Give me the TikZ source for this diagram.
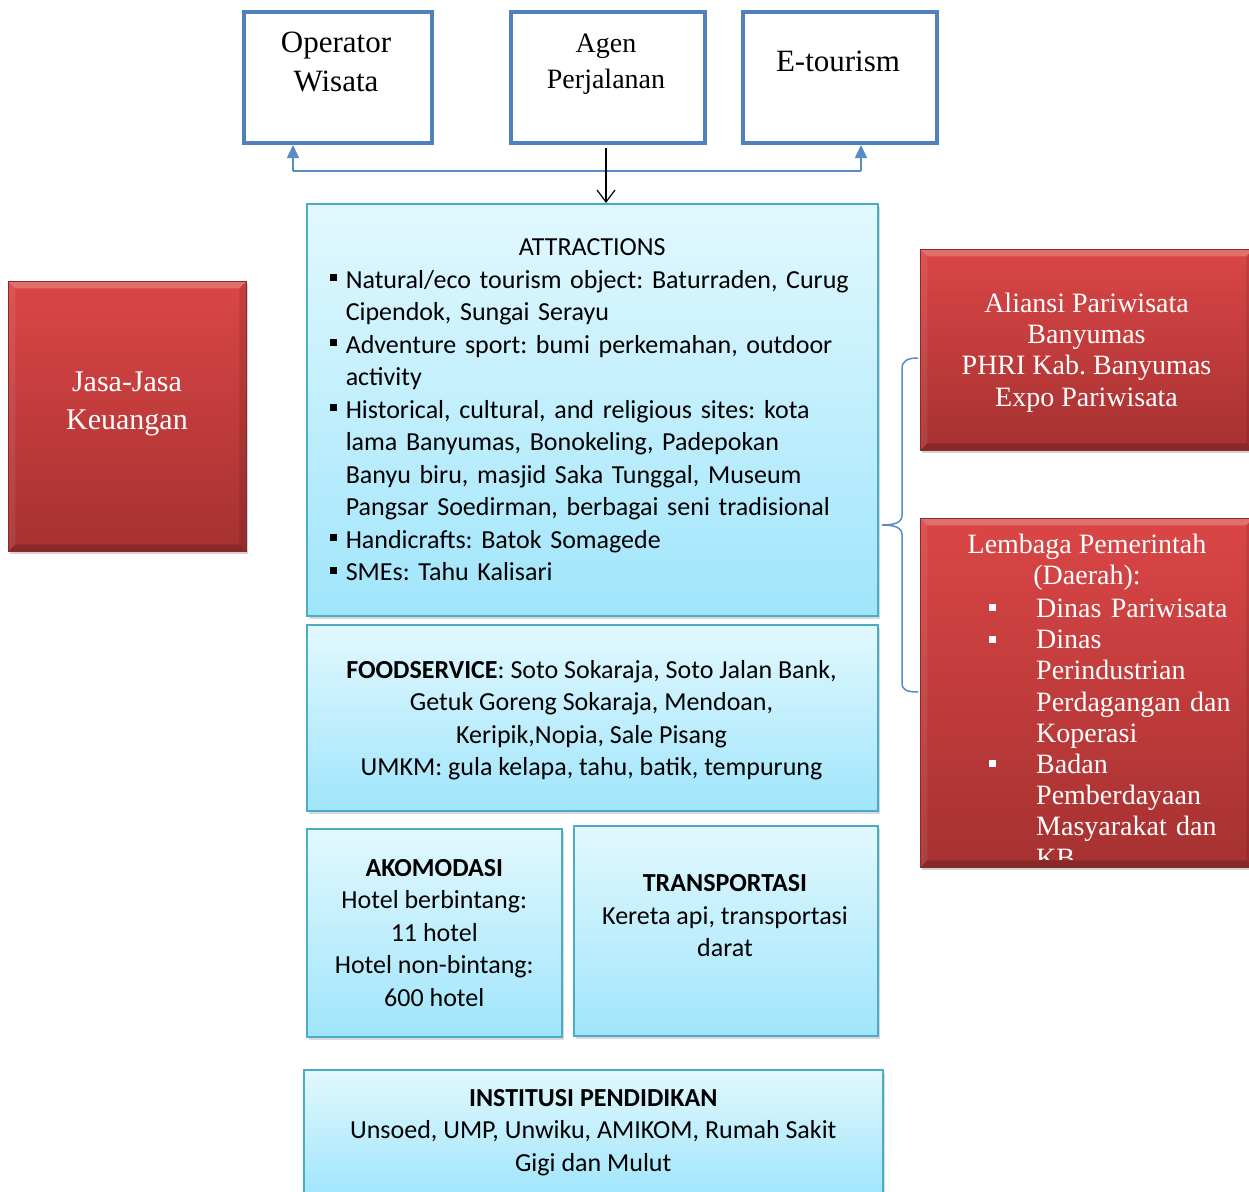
\documentclass[tikz,border=0pt]{standalone}
\usepackage{fontspec}
\setmainfont{Liberation Serif}
\newfontfamily\calibrifont{Carlito}
\usetikzlibrary{arrows.meta,shadows}
\definecolor{opblue}{HTML}{4F81BD}
\definecolor{conblue}{HTML}{5B8BC6}
\definecolor{aqbd}{HTML}{4BACC6}
\definecolor{aqtop}{HTML}{E2F8FE}
\definecolor{aqbot}{HTML}{A0E5FB}
\definecolor{redtop}{HTML}{DB4646}
\definecolor{redbot}{HTML}{A63131}
\definecolor{redbd}{HTML}{8C2A2A}
\frenchspacing
\newcommand{\aitem}{\par\noindent\hangindent=16pt\hangafter=1\makebox[16pt][l]{\raisebox{7pt}{\rule{7pt}{7pt}}}}
\newcommand{\litem}{\par\noindent\hangindent=47pt\hangafter=1\makebox[47pt][l]{\raisebox{6pt}{\rule{7pt}{7pt}}}}
\begin{document}
\begin{tikzpicture}[x=1pt,y=-1pt,
  topbox/.style={rectangle, draw=opblue, line width=4pt, fill=white, inner sep=0pt, anchor=north west},
  toptext/.style={align=center, inner sep=0pt, font=\fontsize{31}{39}\selectfont},
  aqbox/.style={rectangle, draw=aqbd, line width=1.5pt, top color=aqtop, bottom color=aqbot,
    drop shadow={shadow xshift=2pt, shadow yshift=-3pt, opacity=0.3},
    inner sep=0pt, anchor=north west, font=\calibrifont\fontsize{26}{32.5}\selectfont},
  aqtext/.style={align=center, inner sep=0pt, font=\calibrifont\fontsize{26}{32.5}\selectfont},
  bevel/.style={path picture={
    \fill[white,opacity=0.22] (path picture bounding box.north west) -- (path picture bounding box.north east) -- ([shift={(-7pt,-7pt)}]path picture bounding box.north east) -- ([shift={(7pt,-7pt)}]path picture bounding box.north west) -- cycle;
    \fill[black,opacity=0.18] (path picture bounding box.south west) -- (path picture bounding box.south east) -- ([shift={(-7pt,7pt)}]path picture bounding box.south east) -- ([shift={(7pt,7pt)}]path picture bounding box.south west) -- cycle;
    \fill[white,opacity=0.08] (path picture bounding box.north west) -- ([shift={(7pt,-7pt)}]path picture bounding box.north west) -- ([shift={(7pt,7pt)}]path picture bounding box.south west) -- (path picture bounding box.south west) -- cycle;
    \fill[black,opacity=0.10] (path picture bounding box.north east) -- ([shift={(-7pt,-7pt)}]path picture bounding box.north east) -- ([shift={(-7pt,7pt)}]path picture bounding box.south east) -- (path picture bounding box.south east) -- cycle;
  }},
  redbox/.style={rectangle, draw=redbd, line width=0.6pt, top color=redtop, bottom color=redbot, bevel,
    drop shadow={shadow xshift=2pt, shadow yshift=-3pt, opacity=0.35},
    inner sep=0pt, anchor=north west, text=white, font=\fontsize{28}{31.2}\selectfont},
  redtext/.style={align=center, inner sep=0pt, text=white},
  bluecon/.style={draw=conblue, line width=1.5pt},
  bluetip/.style={-{Triangle[width=12pt,length=13pt]}},
]
\useasboundingbox (0,0) rectangle (1249,1191);
\clip (0,0) rectangle (1249,1191);

% top boxes
\node[topbox, minimum width=188, minimum height=131] (op) at (242,10) {};
\node[toptext] (optext) at (336,61.5) {Operator\\Wisata};
\node[topbox, minimum width=194, minimum height=131] (ag) at (509,10) {};
\node[toptext, font=\fontsize{28}{36}\selectfont] (agtext) at (606,64) {Agen\\Perjalanan};
\node[topbox, minimum width=194, minimum height=131] (et) at (741,10) {};
\node[toptext] (ettext) at (838,61) {E-tourism};

% attractions
\node[aqbox, minimum width=571, minimum height=412, text width=525] (attr) at (306,203) {%
\raggedright{\centering ATTRACTIONS\par}%
\aitem Natural/eco tourism object: Baturraden, Curug\newline Cipendok, Sungai Serayu
\aitem Adventure sport: bumi perkemahan, outdoor\newline activity
\aitem Historical, cultural, and religious sites: kota\newline lama Banyumas, Bonokeling, Padepokan\newline Banyu biru, masjid Saka Tunggal, Museum\newline Pangsar Soedirman, berbagai seni tradisional
\aitem Handicrafts: Batok Somagede
\aitem SMEs: Tahu Kalisari\par};

% foodservice
\node[aqbox, minimum width=571, minimum height=186] (food) at (306,624) {};
\node[aqtext] (foodtext) at (591.5,720) {\textbf{FOODSERVICE}: Soto Sokaraja, Soto Jalan Bank,\\Getuk Goreng Sokaraja, Mendoan,\\Keripik,Nopia, Sale Pisang\\UMKM: gula kelapa, tahu, batik, tempurung};

% akomodasi
\node[aqbox, minimum width=255, minimum height=208, align=center] (ako) at (306,828) {\textbf{AKOMODASI}\\Hotel berbintang:\\11 hotel\\Hotel non-bintang:\\600 hotel};

% transportasi
\node[aqbox, minimum width=304, minimum height=210] (trans) at (573,825) {};
\node[aqtext] (transtext) at (725,916) {\textbf{TRANSPORTASI}\\Kereta api, transportasi\\darat};

% institusi
\node[aqbox, minimum width=579, minimum height=125, align=center] (inst) at (303,1069) {\textbf{INSTITUSI PENDIDIKAN}\\Unsoed, UMP, Unwiku, AMIKOM, Rumah Sakit\\Gigi dan Mulut};

% red boxes
\node[redbox, minimum width=238, minimum height=270] (jasa) at (8,281) {};
\node[redtext, font=\fontsize{30}{38}\selectfont] (jasatext) at (127,404) {Jasa-Jasa\\Keuangan};

\node[redbox, minimum width=333, minimum height=201] (alia) at (920,249) {};
\node[redtext, font=\fontsize{28}{31.2}\selectfont] (aliatext) at (1086.5,352.5) {Aliansi Pariwisata\\Banyumas\\PHRI Kab. Banyumas\\Expo Pariwisata};

\node[redbox, minimum width=333, minimum height=349] (lemb) at (920,518) {};
\begin{scope}
\clip (921,519) rectangle (1249,859);
\node[redtext, anchor=north, font=\fontsize{28}{31.2}\selectfont] (lembtitle) at (1087,531.7) {\strut Lembaga Pemerintah\\(Daerah):};
\node[anchor=north west, inner sep=0pt, text=white, text width=260, font=\fontsize{28}{31.2}\selectfont] (lemblist) at (989,586) {%
\raggedright
\litem\strut Dinas Pariwisata
\litem Dinas\newline Perindustrian\newline Perdagangan dan\newline Koperasi
\litem Badan\newline Pemberdayaan\newline Masyarakat dan\newline KB\par};
\end{scope}

% connectors
\coordinate (jl) at (293,171);
\coordinate (jr) at (861,171);
\draw[bluecon] (jl) -- (jr);
\draw[bluecon, bluetip] (jl) -- (jl |- op.south);
\draw[bluecon, bluetip] (jr) -- (jr |- et.south);
\draw[line width=1.2pt, -{Straight Barb[length=12pt,width=18pt,line width=1.2pt]}, shorten <=3pt] ([xshift=-2pt]ag.south) -- ([xshift=-2pt]ag.south |- attr.north);

% brace
\coordinate (brtop) at (918,358);
\coordinate (brtip) at (882,525);
\coordinate (brbot) at (918,692);
\draw[bluecon] (brtop) .. controls (907,358) and (902,361) .. (902,369) -- (902,515)
  .. controls (902,522) and (896,525) .. (brtip)
  .. controls (896,525) and (902,528) .. (902,535) -- (902,683)
  .. controls (902,690) and (907,692) .. (brbot);
\end{tikzpicture}
\end{document}
